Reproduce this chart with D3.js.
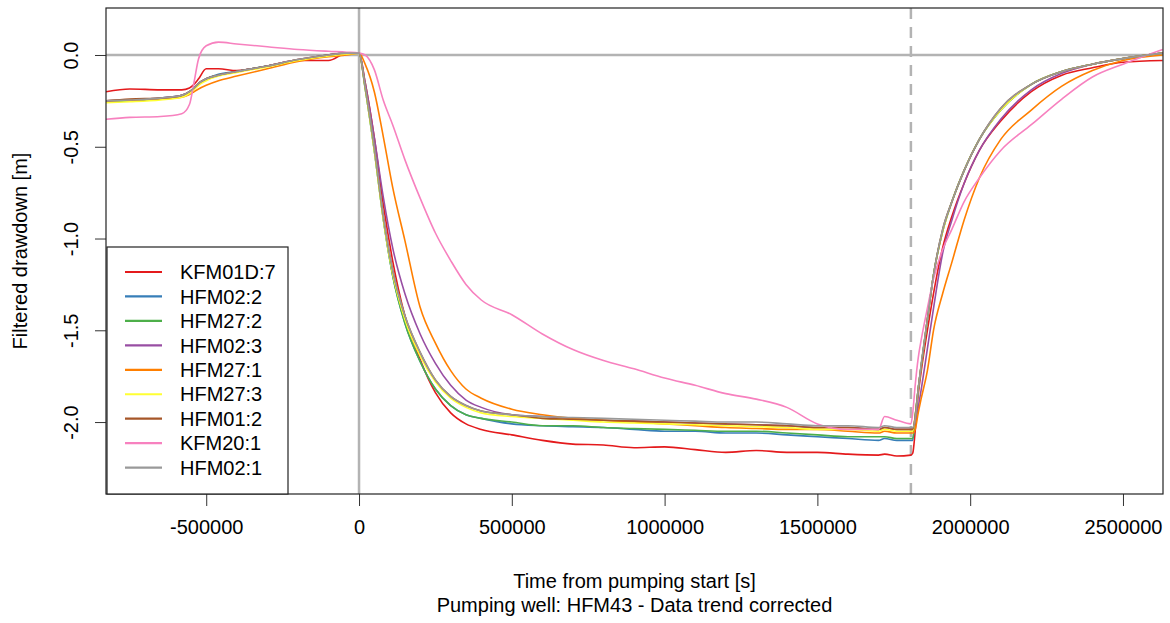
<!DOCTYPE html>
<html>
<head>
<meta charset="utf-8">
<script src="https://cdn.jsdelivr.net/npm/d3@7"></script>
<style>
    body { margin: 0; background: #fff; }
    text { font-family: "Liberation Sans", Arial, sans-serif; fill: #000; }
</style>
</head>
<body>
<div id="chart"></div>
<script>
// time from pumping start [s]
const time = [
    -828000, -750000, -650000, -580000, -555000, -540000, -525000, -500000, -460000, -400000, -300000, -200000, -100000, -40000, 0,
    20000, 50000, 80000, 110000, 150000, 200000, 250000, 300000, 350000, 400000, 500000, 600000, 700000, 800000, 900000, 1000000,
    1100000, 1200000, 1300000, 1400000, 1500000, 1600000, 1700000, 1720000, 1760000, 1806000,
    1812000, 1820000, 1830000, 1840000, 1860000, 1880000, 1910000, 1940000, 1980000, 2030000, 2100000, 2200000, 2300000, 2400000, 2500000, 2630000
];

const seriesNames = ['KFM01D:7', 'HFM02:2', 'HFM27:2', 'HFM02:3', 'HFM27:1', 'HFM27:3', 'HFM01:2', 'KFM20:1', 'HFM02:1'];
const seriesColors = ['#E41A1C', '#377EB8', '#4DAF4A', '#984EA3', '#FF7F00', '#FFFF33', '#A65628', '#F781BF', '#999999'];

// filtered drawdown [m]
const kfm01d7 = [
    -0.2, -0.185, -0.19, -0.19, -0.18, -0.16, -0.13, -0.075, -0.075, -0.085, -0.06, -0.03, -0.03, 0.01, 0.01,
    -0.15, -0.45, -0.82, -1.12, -1.42, -1.66, -1.84, -1.95, -2.01, -2.04, -2.07, -2.1, -2.12, -2.125, -2.14, -2.135,
    -2.15, -2.165, -2.155, -2.165, -2.165, -2.175, -2.18, -2.175, -2.185, -2.18,
    -2.17, -2.05, -1.85, -1.72, -1.5, -1.3, -1.05, -0.88, -0.7, -0.52, -0.36, -0.2, -0.11, -0.07, -0.04, -0.03
];
const hfm02_2 = [
    -0.25, -0.245, -0.235, -0.22, -0.2, -0.18, -0.155, -0.13, -0.105, -0.09, -0.06, -0.03, 0.0, 0.01, 0.01,
    -0.18, -0.52, -0.9, -1.2, -1.46, -1.67, -1.82, -1.91, -1.96, -1.98, -2.01, -2.02, -2.025, -2.03, -2.04, -2.05,
    -2.05, -2.06, -2.06, -2.07, -2.08, -2.09, -2.1, -2.09, -2.1, -2.1,
    -2.1, -1.97, -1.82, -1.69, -1.44, -1.2, -0.96, -0.8, -0.63, -0.46, -0.3, -0.16, -0.09, -0.05, -0.02, 0.01
];
const hfm27_2 = [
    -0.255, -0.25, -0.24, -0.225, -0.205, -0.18, -0.155, -0.13, -0.11, -0.09, -0.06, -0.03, 0.0, 0.01, 0.01,
    -0.18, -0.52, -0.9, -1.2, -1.46, -1.67, -1.82, -1.91, -1.96, -1.98, -2.0, -2.02, -2.02, -2.03, -2.035, -2.04,
    -2.045, -2.05, -2.05, -2.06, -2.07, -2.08, -2.08, -2.08, -2.09, -2.09,
    -2.09, -1.97, -1.82, -1.69, -1.44, -1.2, -0.96, -0.8, -0.63, -0.46, -0.3, -0.16, -0.09, -0.05, -0.02, 0.01
];
const hfm02_3 = [
    -0.25, -0.245, -0.235, -0.22, -0.2, -0.18, -0.155, -0.13, -0.11, -0.09, -0.06, -0.025, 0.0, 0.01, 0.01,
    -0.15, -0.45, -0.78, -1.05, -1.3, -1.52, -1.68, -1.8, -1.88, -1.92, -1.96, -1.97, -1.98, -1.99, -1.995, -2.0,
    -2.005, -2.01, -2.015, -2.02, -2.03, -2.03, -2.04, -2.03, -2.04, -2.04,
    -2.04, -2.0, -1.92, -1.82, -1.6, -1.38, -1.08, -0.9, -0.7, -0.52, -0.35, -0.19, -0.1, -0.05, -0.02, 0.01
];
const hfm27_1 = [
    -0.25, -0.245, -0.24, -0.23, -0.215, -0.2, -0.185, -0.165, -0.14, -0.115, -0.075, -0.035, -0.01, 0.0, 0.01,
    -0.05, -0.2, -0.45, -0.72, -1.01, -1.375, -1.57, -1.72, -1.82, -1.87, -1.93, -1.96, -1.98, -1.99, -2.0, -2.01,
    -2.02, -2.03, -2.035, -2.04, -2.04, -2.05, -2.06, -2.05, -2.06, -2.06,
    -2.06, -2.04, -1.95, -1.87, -1.72, -1.5, -1.3, -1.13, -0.9, -0.67, -0.46, -0.3, -0.17, -0.085, -0.03, 0.0
];
const hfm27_3 = [
    -0.26, -0.255, -0.245, -0.23, -0.21, -0.19, -0.165, -0.14, -0.115, -0.095, -0.065, -0.03, -0.005, 0.005, 0.01,
    -0.18, -0.52, -0.9, -1.19, -1.44, -1.64, -1.78, -1.87, -1.92, -1.95, -1.97, -1.98, -1.99, -2.0, -2.005, -2.01,
    -2.015, -2.02, -2.025, -2.03, -2.04, -2.04, -2.05, -2.04, -2.05, -2.05,
    -2.05, -1.97, -1.82, -1.69, -1.44, -1.2, -0.96, -0.8, -0.63, -0.46, -0.3, -0.16, -0.09, -0.05, -0.02, 0.01
];
const hfm01_2 = [
    -0.25, -0.24, -0.235, -0.22, -0.2, -0.18, -0.155, -0.13, -0.11, -0.09, -0.06, -0.025, 0.0, 0.01, 0.01,
    -0.17, -0.5, -0.88, -1.17, -1.42, -1.62, -1.77, -1.86, -1.91, -1.94, -1.96, -1.98, -1.985, -1.99, -1.995, -2.0,
    -2.005, -2.01, -2.015, -2.02, -2.03, -2.03, -2.04, -2.03, -2.04, -2.04,
    -2.04, -1.97, -1.82, -1.69, -1.44, -1.2, -0.95, -0.8, -0.63, -0.46, -0.29, -0.16, -0.09, -0.05, -0.02, 0.01
];
const kfm20_1 = [
    -0.35, -0.34, -0.335, -0.32, -0.27, -0.15, -0.02, 0.05, 0.07, 0.06, 0.045, 0.03, 0.02, 0.015, 0.01,
    0.0, -0.08, -0.25, -0.38, -0.57, -0.78, -0.97, -1.12, -1.25, -1.335, -1.415, -1.52, -1.605, -1.665, -1.71, -1.76,
    -1.8, -1.845, -1.875, -1.92, -2.01, -2.04, -2.04, -1.97, -1.99, -2.01,
    -1.95, -1.8, -1.65, -1.55, -1.38, -1.22, -1.06, -0.95, -0.8, -0.67, -0.52, -0.38, -0.24, -0.12, -0.05, 0.03
];
const hfm02_1 = [
    -0.25, -0.245, -0.235, -0.22, -0.2, -0.18, -0.155, -0.13, -0.11, -0.09, -0.06, -0.025, 0.0, 0.01, 0.01,
    -0.17, -0.5, -0.88, -1.17, -1.42, -1.62, -1.77, -1.86, -1.91, -1.94, -1.96, -1.97, -1.975, -1.98, -1.985, -1.99,
    -1.995, -2.0, -2.0, -2.01, -2.02, -2.02, -2.03, -2.02, -2.03, -2.03,
    -2.03, -1.98, -1.82, -1.68, -1.44, -1.2, -0.95, -0.8, -0.63, -0.46, -0.29, -0.16, -0.09, -0.05, -0.02, 0.01
];

const seriesValues = [kfm01d7, hfm02_2, hfm27_2, hfm02_3, hfm27_1, hfm27_3, hfm01_2, kfm20_1, hfm02_1];

const xTicks = [-500000, 0, 500000, 1000000, 1500000, 2000000, 2500000];
const yTicks = [0, -0.5, -1, -1.5, -2];
const pumpStop = 1806000;

const width = 1170;
const height = 623;
const margin = { top: 8, right: 7, bottom: 129, left: 106 };

const x = d3.scaleLinear()
    .domain([-828000, 2631000])
    .range([margin.left, width - margin.right]);
const y = d3.scaleLinear()
    .domain([-2.392, 0.256])
    .range([height - margin.bottom, margin.top]);

const svg = d3.select('#chart').append('svg')
    .attr('width', width)
    .attr('height', height);

svg.append('defs').append('clipPath')
    .attr('id', 'plot-clip')
    .append('rect')
    .attr('x', margin.left)
    .attr('y', margin.top)
    .attr('width', width - margin.left - margin.right)
    .attr('height', height - margin.top - margin.bottom);

const plot = svg.append('g').attr('clip-path', 'url(#plot-clip)');

// reference lines: zero drawdown, pumping start, pumping stop
plot.append('line')
    .attr('x1', margin.left).attr('x2', width - margin.right)
    .attr('y1', y(0)).attr('y2', y(0))
    .style('stroke', '#b3b3b3').style('stroke-width', 2.5);
plot.append('line')
    .attr('x1', x(0)).attr('x2', x(0))
    .attr('y1', margin.top).attr('y2', height - margin.bottom)
    .style('stroke', '#b3b3b3').style('stroke-width', 2.5);
plot.append('line')
    .attr('x1', x(pumpStop)).attr('x2', x(pumpStop))
    .attr('y1', margin.top).attr('y2', height - margin.bottom)
    .style('stroke', '#b3b3b3').style('stroke-width', 2.5)
    .style('stroke-dasharray', '11,8');

const line = d3.line()
    .x((d, i) => x(time[i]))
    .y((d) => y(d))
    .curve(d3.curveMonotoneX);

plot.selectAll('.series')
    .data(seriesValues)
    .enter()
    .append('path')
    .attr('class', 'series')
    .attr('d', (d) => line(d))
    .style('fill', 'none')
    .style('stroke', (d, i) => seriesColors[i])
    .style('stroke-width', 1.6)
    .style('stroke-linejoin', 'round');

// axes
const xAxis = svg.append('g')
    .attr('transform', `translate(0,${height - margin.bottom})`)
    .call(d3.axisBottom(x).tickValues(xTicks).tickSize(12).tickPadding(14)
        .tickFormat((d) => String(d)));
xAxis.select('.domain').remove();
xAxis.selectAll('text').style('font-size', '20px').style('fill', '#000');
xAxis.selectAll('line').style('stroke', '#333');

const yAxis = svg.append('g')
    .attr('transform', `translate(${margin.left},0)`)
    .call(d3.axisLeft(y).tickValues(yTicks).tickSize(11)
        .tickFormat((d) => d.toFixed(1)));
yAxis.select('.domain').remove();
yAxis.selectAll('line').style('stroke', '#333');
yAxis.selectAll('text')
    .attr('x', 0)
    .attr('dy', 0)
    .attr('text-anchor', 'middle')
    .attr('transform', 'translate(-28,0) rotate(-90)')
    .style('font-size', '20px')
    .style('fill', '#000');

// plot frame
svg.append('rect')
    .attr('x', margin.left)
    .attr('y', margin.top)
    .attr('width', width - margin.left - margin.right)
    .attr('height', height - margin.top - margin.bottom)
    .style('fill', 'none')
    .style('stroke', '#222')
    .style('stroke-width', 1.2);

// titles
svg.append('text')
    .attr('x', (margin.left + width - margin.right) / 2)
    .attr('y', 588)
    .attr('text-anchor', 'middle')
    .style('font-size', '20px')
    .text('Time from pumping start [s]');
svg.append('text')
    .attr('x', (margin.left + width - margin.right) / 2)
    .attr('y', 612)
    .attr('text-anchor', 'middle')
    .style('font-size', '20px')
    .text('Pumping well: HFM43 - Data trend corrected');
svg.append('text')
    .attr('transform', `translate(27,${(margin.top + height - margin.bottom) / 2}) rotate(-90)`)
    .attr('text-anchor', 'middle')
    .style('font-size', '20px')
    .text('Filtered drawdown [m]');

// legend
const legend = svg.append('g').attr('class', 'legend');
legend.append('rect')
    .attr('x', 107)
    .attr('y', 247)
    .attr('width', 181)
    .attr('height', height - margin.bottom - 247)
    .style('fill', '#fff')
    .style('stroke', '#222')
    .style('stroke-width', 1.2);

const item = legend.selectAll('.item')
    .data(seriesNames)
    .enter()
    .append('g')
    .attr('class', 'item')
    .attr('transform', (d, i) => `translate(0,${272 + i * 24.45})`);
item.append('line')
    .attr('x1', 125).attr('x2', 162)
    .style('stroke', (d, i) => seriesColors[i])
    .style('stroke-width', 2.2);
item.append('text')
    .attr('x', 180)
    .attr('dy', '0.36em')
    .style('font-size', '20px')
    .text((d) => d);
</script>
</body>
</html>
